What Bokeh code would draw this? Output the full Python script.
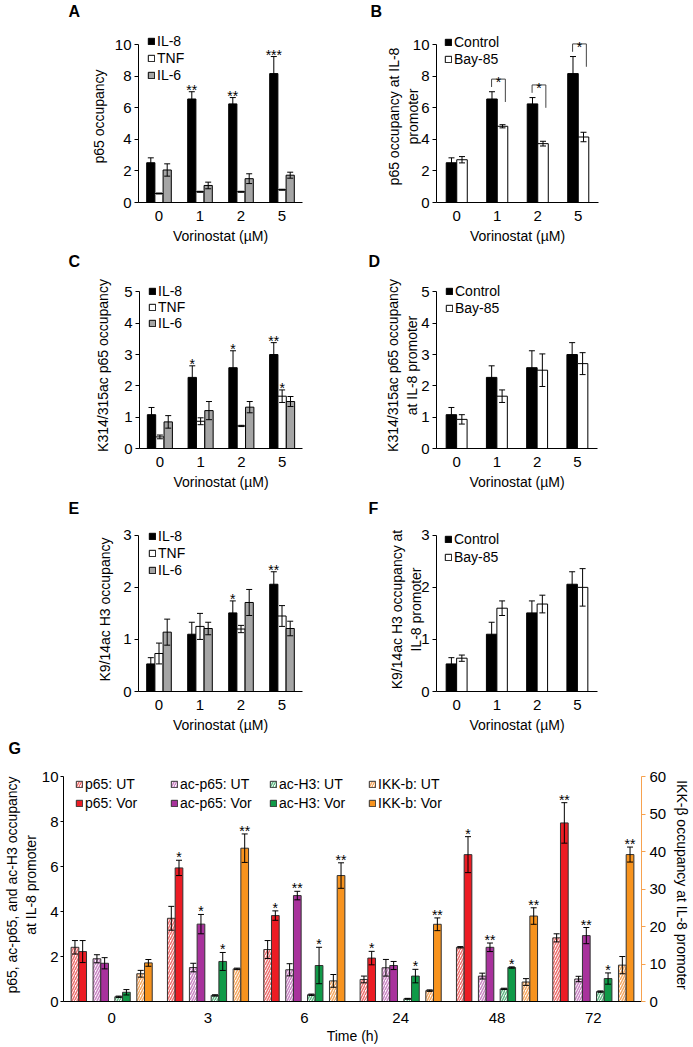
from bokeh.plotting import figure
from bokeh.models import (ColumnDataSource, FactorRange, Range1d, FixedTicker,
                          Legend, LegendItem, LinearAxis, Title)
from bokeh.transform import dodge
from bokeh.layouts import column, row
from bokeh.embed import file_html
from bokeh.resources import INLINE
from bokeh.core.properties import value

FONT = "Liberation Sans"

# ------------------------------------------------------------------ data
doses = ["0", "1", "2", "5"]

# Panel A
a_il8 = [2.52, 6.56, 6.25, 8.17]
a_il8_err = [0.31, 0.46, 0.40, 1.08]
a_tnf = [0.57, 0.68, 0.68, 0.81]
a_tnf_err = [0.03, 0.03, 0.03, 0.03]
a_il6 = [2.06, 1.08, 1.51, 1.73]
a_il6_err = [0.39, 0.21, 0.31, 0.19]
a_stars = ["", "**", "**", "***"]

# Panel B
b_ctrl = [2.52, 6.56, 6.25, 8.17]
b_ctrl_err = [0.31, 0.46, 0.40, 1.08]
b_bay = [2.71, 4.83, 3.73, 4.15]
b_bay_err = [0.20, 0.10, 0.15, 0.30]
b_sig = ["", "*", "*", "*"]

# Panel C
c_il8 = [1.08, 2.27, 2.58, 3.00]
c_il8_err = [0.23, 0.37, 0.54, 0.38]
c_tnf = [0.37, 0.87, 0.72, 1.67]
c_tnf_err = [0.06, 0.11, 0.02, 0.20]
c_il6 = [0.85, 1.21, 1.32, 1.50]
c_il6_err = [0.20, 0.29, 0.18, 0.16]
c_il8_stars = ["", "*", "*", "**"]
c_tnf_stars = ["", "", "", "*"]

# Panel D
d_ctrl = [1.08, 2.27, 2.58, 3.00]
d_ctrl_err = [0.23, 0.37, 0.54, 0.38]
d_bay = [0.93, 1.67, 2.50, 2.71]
d_bay_err = [0.15, 0.20, 0.52, 0.35]

# Panel E
e_il8 = [0.53, 1.10, 1.51, 2.06]
e_il8_err = [0.12, 0.23, 0.23, 0.24]
e_tnf = [0.73, 1.25, 1.20, 1.45]
e_tnf_err = [0.20, 0.25, 0.07, 0.20]
e_il6 = [1.14, 1.21, 1.71, 1.21]
e_il6_err = [0.25, 0.12, 0.25, 0.14]
e_stars = ["", "", "*", "**"]

# Panel F
f_ctrl = [0.53, 1.10, 1.51, 2.06]
f_ctrl_err = [0.12, 0.23, 0.23, 0.24]
f_bay = [0.64, 1.60, 1.68, 2.00]
f_bay_err = [0.06, 0.14, 0.17, 0.36]

# Panel G
times = ["0", "3", "6", "24", "48", "72"]
p65_ut = [2.41, 3.70, 2.31, 0.98, 2.41, 2.83]
p65_ut_err = [0.30, 0.53, 0.40, 0.15, 0.03, 0.18]
p65_vor = [2.22, 5.94, 3.82, 1.93, 6.53, 7.94]
p65_vor_err = [0.49, 0.34, 0.21, 0.30, 0.80, 0.90]
p65_vor_stars = ["", "*", "*", "*", "*", "**"]
acp65_ut = [1.90, 1.51, 1.41, 1.50, 1.13, 1.00]
acp65_ut_err = [0.18, 0.19, 0.27, 0.37, 0.13, 0.12]
acp65_vor = [1.70, 3.44, 4.71, 1.60, 2.41, 2.93]
acp65_vor_err = [0.25, 0.43, 0.19, 0.18, 0.19, 0.36]
acp65_vor_stars = ["", "*", "**", "", "**", "**"]
ach3_ut = [0.21, 0.27, 0.30, 0.12, 0.56, 0.44]
ach3_ut_err = [0.03, 0.03, 0.03, 0.02, 0.03, 0.03]
ach3_vor = [0.41, 1.78, 1.60, 1.13, 1.51, 1.02]
ach3_vor_err = [0.12, 0.40, 0.81, 0.30, 0.03, 0.25]
ach3_vor_stars = ["", "*", "*", "*", "*", "*"]
ikk_ut = [7.4, 8.7, 5.5, 2.9, 5.2, 9.7]
ikk_ut_err = [0.9, 0.2, 1.7, 0.2, 0.9, 2.3]
ikk_vor = [10.3, 40.9, 33.6, 20.6, 22.8, 39.2]
ikk_vor_err = [0.9, 3.8, 3.4, 1.7, 2.2, 2.0]
ikk_vor_stars = ["", "**", "**", "**", "**", "**"]


# ------------------------------------------------------------------ helpers
def style_axis(ax, label):
    ax.axis_label = label
    ax.axis_label_text_font = FONT
    ax.axis_label_text_font_size = "14px"
    ax.axis_label_text_font_style = "normal"
    ax.axis_label_text_color = "black"
    ax.axis_label_text_line_height = 1.2
    ax.major_label_text_font = FONT
    ax.major_label_text_font_size = "15px"
    ax.major_label_text_color = "black"
    ax.axis_line_color = "black"
    ax.axis_line_width = 1
    ax.major_tick_line_color = "black"
    ax.minor_tick_line_color = None
    ax.minor_tick_out = 0
    ax.minor_tick_in = 0


def base_fig(width, height, bl, br, bt, bb, cats, ytop, ymax, yticks, xlabel,
             ylabel, ystand, letter, letter_off, spacer):
    p = figure(width=width, height=height, x_range=FactorRange(factors=cats),
               y_range=Range1d(0, ytop), output_backend="svg", toolbar_location=None,
               min_border_left=bl, min_border_right=br, min_border_top=bt,
               min_border_bottom=bb, title=None)
    p.outline_line_color = None
    p.xgrid.grid_line_color = None
    p.ygrid.grid_line_color = None
    p.background_fill_color = "white"
    p.border_fill_color = "white"
    xa = p.xaxis[0]
    ya = p.yaxis[0]
    style_axis(xa, xlabel)
    style_axis(ya, ylabel)
    xa.major_tick_line_color = None
    xa.major_tick_out = 4
    xa.major_tick_in = 0
    xa.major_label_standoff = 4
    xa.axis_label_standoff = 4
    ya.ticker = FixedTicker(ticks=yticks)
    ya.bounds = (0, ymax)
    ya.major_tick_out = 4
    ya.major_tick_in = 0
    ya.major_label_standoff = 3
    ya.axis_label_standoff = ystand
    # small spacer between frame and the panel letter, then the letter itself
    p.add_layout(Title(text=" ", text_font=FONT, text_font_size=spacer,
                       standoff=0), "above")
    p.add_layout(Title(text=letter, align="left", offset=letter_off, standoff=0,
                       text_font=FONT, text_font_size="16px",
                       text_font_style="bold", text_color="black"), "above")
    return p


def draw(p, cats, vals, errs, off, width, fill, line="black", stars=None,
         hatch=None, hatch_color=None, rng="default", cap=6, star_dy=-2):
    lo = [v - e for v, e in zip(vals, errs)]
    hi = [v + e for v, e in zip(vals, errs)]
    src = ColumnDataSource(dict(cat=cats, top=vals, lo=lo, hi=hi,
                                stars=stars if stars else [""] * len(cats)))
    x = dodge("cat", off, range=p.x_range)
    extra = {}
    if hatch:
        extra = dict(hatch_pattern=hatch, hatch_color=hatch_color,
                     hatch_scale=5, hatch_weight=1.5)
    r = p.vbar(x=x, top="top", bottom=0, width=width, source=src,
               fill_color=fill, line_color=line, line_width=1,
               y_range_name=rng, **extra)
    p.segment(x0=x, y0="lo", x1=x, y1="hi", source=src, line_color="black",
              line_width=1, y_range_name=rng)
    p.scatter(x=x, y="hi", marker="dash", size=cap, source=src,
              line_color="black", line_width=1, y_range_name=rng)
    p.scatter(x=x, y="lo", marker="dash", size=cap, source=src,
              line_color="black", line_width=1, y_range_name=rng)
    if stars:
        p.text(x=x, y="hi", text="stars", source=src, text_font=value(FONT),
               text_font_size="14px", text_align="center",
               text_baseline="alphabetic", text_color="black",
               y_offset=star_dy, y_range_name=rng)
    return r


def add_legend(p, entries, x, y, spacing, size="14px"):
    items = [LegendItem(label=lab, renderers=[r]) for lab, r in entries]
    leg = Legend(items=items, location=(x, y), orientation="vertical",
                 padding=0, margin=0, spacing=spacing, glyph_width=8,
                 glyph_height=8, label_height=14, label_width=10,
                 label_standoff=2, label_text_font=FONT,
                 label_text_font_size=size, label_text_color="black",
                 border_line_color=None, background_fill_alpha=0)
    p.add_layout(leg)


GRAY = "#a5a5a5"
XL = "Vorinostat (µM)"
T10 = [0, 2, 4, 6, 8, 10]

# ------------------------------------------------------------------ A
pA = base_fig(340, 250, 138, 38, 28, 48, doses, 10.9, 10, T10, XL,
              "p65 occupancy", 5, "A", -70, "8px")
rA1 = draw(pA, doses, a_il8, a_il8_err, -0.2, 0.2, "black", stars=a_stars)
rA2 = draw(pA, doses, a_tnf, a_tnf_err, 0.0, 0.2, "white")
rA3 = draw(pA, doses, a_il6, a_il6_err, 0.2, 0.2, GRAY)
add_legend(pA, [("IL-8", rA1), ("TNF", rA2), ("IL-6", rA3)], 9, 119, 1)

# ------------------------------------------------------------------ B
pB = base_fig(353, 250, 96, 95, 28, 48, doses, 10.9, 10, T10, XL,
              "p65 occupancy at IL-8\npromoter", -11, "B", -66, "8px")
rB1 = draw(pB, doses, b_ctrl, b_ctrl_err, -0.13, 0.26, "black")
rB2 = draw(pB, doses, b_bay, b_bay_err, 0.13, 0.26, "white")
bc = [c for c, s in zip(doses, b_sig) if s]
btop = [v + e + 0.8 for v, e, s in zip(b_ctrl, b_ctrl_err, b_sig) if s]
bsrc = ColumnDataSource(dict(cat=bc, ytop=btop, yl=[t - 0.5 for t in btop],
                             yr=[t - 1.45 for t in btop],
                             sig=[s for s in b_sig if s]))
xl = dodge("cat", -0.14, range=pB.x_range)
xr = dodge("cat", 0.2, range=pB.x_range)
xm = dodge("cat", 0.03, range=pB.x_range)
pB.segment(x0=xl, y0="ytop", x1=xr, y1="ytop", source=bsrc, line_color="#444444")
pB.segment(x0=xl, y0="ytop", x1=xl, y1="yl", source=bsrc, line_color="#444444")
pB.segment(x0=xr, y0="ytop", x1=xr, y1="yr", source=bsrc, line_color="#444444")
pB.text(x=xm, y="ytop", text="sig", source=bsrc, text_font=value(FONT),
        text_font_size="14px", text_align="center", text_baseline="alphabetic",
        y_offset=3, text_color="black")
add_legend(pB, [("Control", rB1), ("Bay-85", rB2)], 8, 135, 1)

# ------------------------------------------------------------------ C
pC = base_fig(340, 242, 139, 38, 30, 41, doses, 5.3, 5, [0, 1, 2, 3, 4, 5], XL,
              "K314/315ac p65 occupancy", 10, "C", -71, "9.5px")
rC1 = draw(pC, doses, c_il8, c_il8_err, -0.205, 0.205, "black", stars=c_il8_stars)
rC2 = draw(pC, doses, c_tnf, c_tnf_err, 0.0, 0.205, "white", stars=c_tnf_stars)
rC3 = draw(pC, doses, c_il6, c_il6_err, 0.205, 0.205, GRAY)
add_legend(pC, [("IL-8", rC1), ("TNF", rC2), ("IL-6", rC3)], 9, 117, 0)

# ------------------------------------------------------------------ D
pD = base_fig(353, 242, 96, 96, 30, 41, doses, 5.3, 5, [0, 1, 2, 3, 4, 5], XL,
              "K314/315ac p65 occupancy\nat IL-8 promoter", -2, "D", -68, "9.5px")
rD1 = draw(pD, doses, d_ctrl, d_ctrl_err, -0.13, 0.26, "black")
rD2 = draw(pD, doses, d_bay, d_bay_err, 0.13, 0.26, "white")
add_legend(pD, [("Control", rD1), ("Bay-85", rD2)], 9, 132, 1)

# ------------------------------------------------------------------ E
pE = base_fig(340, 243, 138, 38, 35, 39, doses, 3.15, 3, [0, 1, 2, 3], XL,
              "K9/14ac H3 occupancy", 7, "E", -70, "7.2px")
rE1 = draw(pE, doses, e_il8, e_il8_err, -0.2, 0.2, "black", stars=e_stars)
rE2 = draw(pE, doses, e_tnf, e_tnf_err, 0.0, 0.2, "white")
rE3 = draw(pE, doses, e_il6, e_il6_err, 0.2, 0.2, GRAY)
add_legend(pE, [("IL-8", rE1), ("TNF", rE2), ("IL-6", rE3)], 10, 113, 1)

# ------------------------------------------------------------------ F
pF = base_fig(353, 243, 96, 96, 35, 39, doses, 3.15, 3, [0, 1, 2, 3], XL,
              "K9/14ac H3 occupancy at\nIL-8 promoter", -6, "F", -68, "7.2px")
rF1 = draw(pF, doses, f_ctrl, f_ctrl_err, -0.13, 0.26, "black")
rF2 = draw(pF, doses, f_bay, f_bay_err, 0.13, 0.26, "white")
add_legend(pF, [("Control", rF1), ("Bay-85", rF2)], 8, 126, 2)

# ------------------------------------------------------------------ G
pG = base_fig(693, 312, 55, 48, 33, 46, times, 10.36, 10, T10,
              "Time (h)", "p65, ac-p65, and ac-H3 occupancy\nat IL-8 promoter", 0,
              "G", -55, "9px")
pG.yaxis[0].major_tick_out = 3
pG.yaxis[0].major_label_standoff = 2
pG.xaxis[0].major_label_standoff = 7
pG.xaxis[0].axis_label_standoff = 2
pG.extra_y_ranges = {"ikk": Range1d(0, 62.16)}
ra = LinearAxis(y_range_name="ikk")
style_axis(ra, "IKK-β occupancy at IL-8 promoter")
ra.ticker = FixedTicker(ticks=[0, 10, 20, 30, 40, 50, 60])
ra.bounds = (0, 60)
ra.axis_line_color = "#f7a24f"
ra.major_tick_line_color = "#f7a24f"
ra.major_tick_out = 4
ra.major_tick_in = 0
ra.major_label_standoff = 4
ra.axis_label_standoff = 5
pG.add_layout(ra, "right")

W = 0.08
OL = "#333333"
RED, PUR, GRN, ORG = "#ec1c24", "#a8329c", "#109a48", "#f7931e"
g1 = draw(pG, times, p65_ut, p65_ut_err, -0.381, W, "white", OL,
          hatch="/", hatch_color="#ee7070")
g2 = draw(pG, times, p65_vor, p65_vor_err, -0.301, W, RED, OL,
          stars=p65_vor_stars, star_dy=-3)
g3 = draw(pG, times, acp65_ut, acp65_ut_err, -0.153, W, "white", OL,
          hatch="/", hatch_color="#c985c4")
g4 = draw(pG, times, acp65_vor, acp65_vor_err, -0.073, W, PUR, OL,
          stars=acp65_vor_stars, star_dy=-3)
g5 = draw(pG, times, ach3_ut, ach3_ut_err, 0.073, W, "white", OL,
          hatch="/", hatch_color="#63b886")
g6 = draw(pG, times, ach3_vor, ach3_vor_err, 0.153, W, GRN, OL,
          stars=ach3_vor_stars, star_dy=-3)
g7 = draw(pG, times, ikk_ut, ikk_ut_err, 0.301, W, "white", OL,
          hatch="/", hatch_color="#f4a862", rng="ikk")
g8 = draw(pG, times, ikk_vor, ikk_vor_err, 0.381, W, ORG, OL,
          stars=ikk_vor_stars, star_dy=-3, rng="ikk")
add_legend(pG, [("p65: UT", g1), ("p65: Vor", g2)], 12, 190, 3)
add_legend(pG, [("ac-p65: UT", g3), ("ac-p65: Vor", g4)], 107, 190, 3)
add_legend(pG, [("ac-H3: UT", g5), ("ac-H3: Vor", g6)], 206, 190, 3)
add_legend(pG, [("IKK-b: UT", g7), ("IKK-b: Vor", g8)], 305, 190, 3)

layout = column(row(pA, pB), row(pC, pD), row(pE, pF), pG)
open("out.html", "w").write(file_html(layout, INLINE))
